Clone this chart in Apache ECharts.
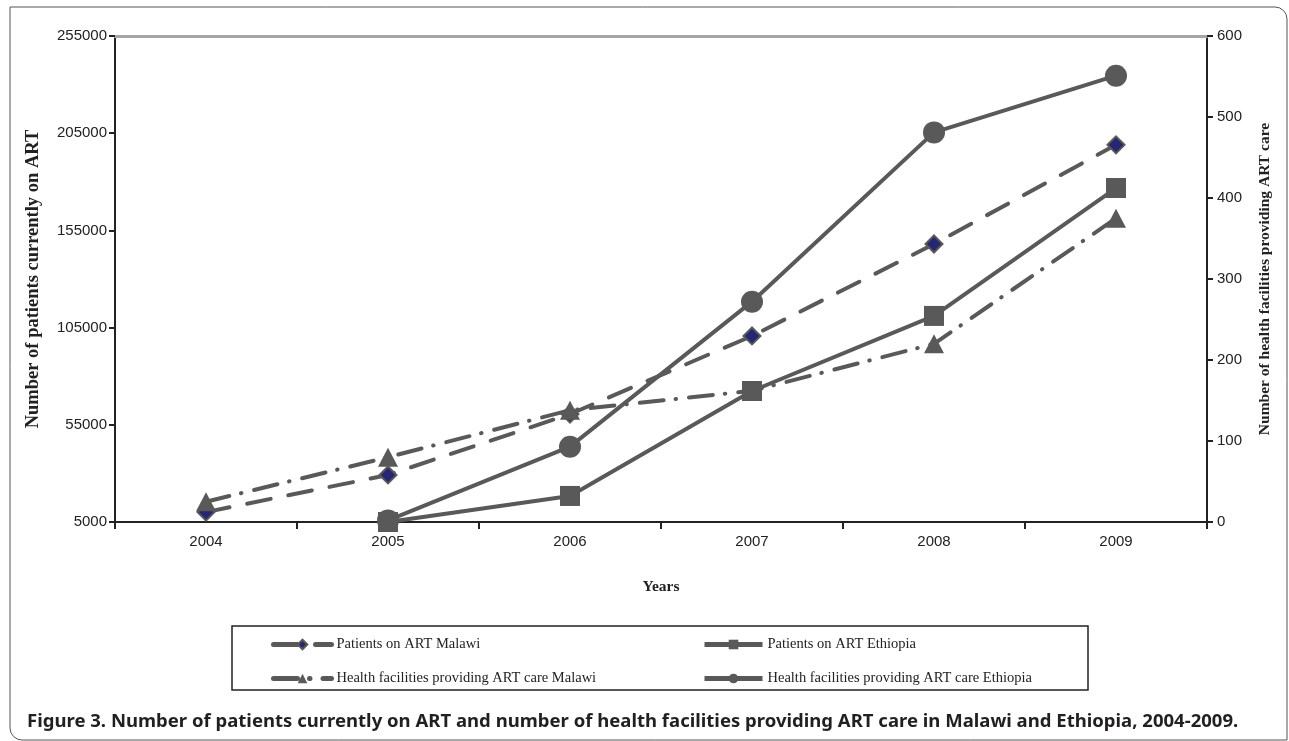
<!DOCTYPE html>
<html><head><meta charset="utf-8">
<script src="https://cdn.jsdelivr.net/npm/echarts@6/dist/echarts.min.js"></script>
<style>html,body{margin:0;padding:0;background:#fff}#c{width:1289px;height:741px}</style>
</head><body><div id="c"></div>
<script>
const years = ['2004','2005','2006','2007','2008','2009'];
const patientsMalawi = [10100, 29200, 60500, 100700, 148000, 199000];
const patientsEthiopia = [null, 5000, 18400, 72400, 111000, 176800];
const facilitiesMalawi = [25, 80, 138, 162, 220, 375];
const facilitiesEthiopia = [null, 2, 93, 272, 481, 551];
const leftTicks = [5000, 255000, 50000];
const rightTicks = [0, 600, 100];

const gray = '#595959';
const chart = echarts.init(document.getElementById('c'));
const labelFont = {fontFamily: 'Liberation Sans', fontSize: 15, color: '#222'};
const legendCommon = {
  orient: 'vertical', itemGap: 19, itemWidth: 58, itemHeight: 12,
  lineStyle: {width: 5},
  textStyle: {fontFamily: 'Liberation Serif', fontSize: 14.5, color: '#222'}
};
chart.setOption({
  animation: false,
  grid: {left: 115, right: 82, top: 36, bottom: 219},
  xAxis: [{
    type: 'category', data: years, boundaryGap: true,
    name: 'Years', nameLocation: 'middle', nameGap: 57,
    nameTextStyle: {fontFamily: 'Liberation Serif', fontWeight: 'bold', fontSize: 15.5, color: '#222'},
    axisLine: {lineStyle: {color: '#222', width: 2}},
    axisTick: {show: true, length: 7, lineStyle: {color: '#222', width: 2}},
    axisLabel: Object.assign({margin: 12}, labelFont)
  }, {
    type: 'category', data: years, position: 'top',
    axisLine: {lineStyle: {color: '#a6a6a6', width: 3}},
    axisTick: {show: false}, axisLabel: {show: false}
  }],
  yAxis: [{
    type: 'value', min: leftTicks[0], max: leftTicks[1], interval: leftTicks[2],
    name: 'Number of patients currently on ART', nameLocation: 'middle', nameGap: 72, nameRotate: 90,
    nameTextStyle: {fontFamily: 'Liberation Serif', fontWeight: 'bold', fontSize: 18.5, color: '#222'},
    axisLine: {show: true, lineStyle: {color: '#222', width: 2}},
    axisTick: {show: true, length: 6, lineStyle: {color: '#222', width: 2}},
    splitLine: {show: false},
    axisLabel: Object.assign({margin: 8, formatter: v => String(v)}, labelFont)
  }, {
    type: 'value', min: rightTicks[0], max: rightTicks[1], interval: rightTicks[2], position: 'right',
    name: 'Number of health facilities providing ART care', nameLocation: 'middle', nameGap: 50, nameRotate: 90,
    nameTextStyle: {fontFamily: 'Liberation Serif', fontWeight: 'bold', fontSize: 15.5, color: '#222'},
    axisLine: {show: true, lineStyle: {color: '#222', width: 2}},
    axisTick: {show: true, length: 6, lineStyle: {color: '#222', width: 2}},
    splitLine: {show: false},
    axisLabel: Object.assign({margin: 10, formatter: v => String(v)}, labelFont)
  }],
  legend: [Object.assign({
    left: 266, top: 632,
    data: ['Patients on ART Malawi', 'Health facilities providing ART care Malawi']
  }, legendCommon), Object.assign({
    left: 697, top: 632,
    data: ['Patients on ART Ethiopia', 'Health facilities providing ART care Ethiopia']
  }, legendCommon)],
  series: [{
    name: 'Patients on ART Malawi', type: 'line', yAxisIndex: 0, data: patientsMalawi,
    symbol: 'diamond', symbolSize: 17, showAllSymbol: true,
    itemStyle: {color: '#262673', borderColor: gray, borderWidth: 2},
    lineStyle: {color: gray, width: 4, type: [24, 18], cap: 'round'}, z: 3
  }, {
    name: 'Patients on ART Ethiopia', type: 'line', yAxisIndex: 0, data: patientsEthiopia,
    symbol: 'rect', symbolSize: 20, showAllSymbol: true,
    itemStyle: {color: gray},
    lineStyle: {color: gray, width: 4}, z: 3
  }, {
    name: 'Health facilities providing ART care Malawi', type: 'line', yAxisIndex: 1, data: facilitiesMalawi,
    symbol: 'triangle', symbolSize: [20, 19], showAllSymbol: true,
    itemStyle: {color: gray},
    lineStyle: {color: gray, width: 4, type: [24, 12, 0.5, 13], cap: 'round'}, z: 3
  }, {
    name: 'Health facilities providing ART care Ethiopia', type: 'line', yAxisIndex: 1, data: facilitiesEthiopia,
    symbol: 'circle', symbolSize: 22, showAllSymbol: true,
    itemStyle: {color: gray},
    lineStyle: {color: gray, width: 4}, z: 3
  }],
  graphic: [{
    type: 'rect', shape: {x: 232, y: 626, width: 856, height: 64},
    style: {fill: 'none', stroke: '#222', lineWidth: 1.5}, z: -1
  }, {
    type: 'rect', shape: {x: 10, y: 7, width: 1277, height: 733, r: [0, 12, 0, 12]},
    style: {fill: 'none', stroke: '#555', lineWidth: 1}, z: -2
  }, {
    type: 'text', x: 27, y: 714, scaleX: 1.09,
    style: {text: 'Figure 3. Number of patients currently on ART and number of health facilities providing ART care in Malawi and Ethiopia, 2004-2009.',
      font: 'bold 17px "Noto Sans"', fill: '#231f20'}
  }]
});
</script></body></html>
